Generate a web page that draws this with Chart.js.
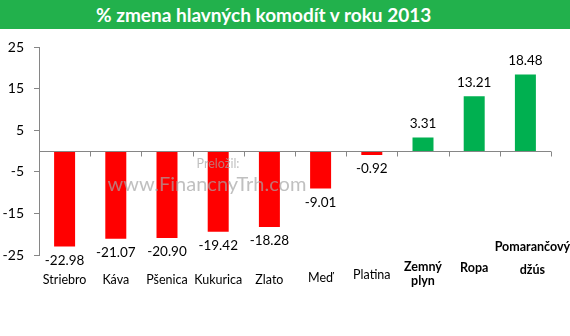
<!DOCTYPE html>
<html>
<head>
<meta charset="utf-8">
<script src="https://cdn.jsdelivr.net/npm/chart.js@4/dist/chart.umd.min.js"></script>
<style>
  html, body { margin: 0; padding: 0; background: #fff; }
  #title { width: 570px; height: 29px; background: #22B14C; color: #fff;
    font: bold 19px Lato, sans-serif; line-height: 30px; box-sizing: border-box;
    padding-left: 96px; white-space: nowrap; }
  #wrap { width: 570px; height: 307px; position: relative; }
</style>
</head>
<body>
<div id="title">% zmena hlavných komodít v roku 2013</div>
<div id="wrap"><canvas id="c" width="570" height="307"></canvas></div>
<script>
const categories = ['Striebro', 'Káva', 'Pšenica', 'Kukurica', 'Zlato', 'Meď', 'Platina', ['Zemný', 'plyn'], 'Ropa', ['Pomarančový', 'džús']];
const values = [-22.98, -21.07, -20.90, -19.42, -18.28, -9.01, -0.92, 3.31, 13.21, 18.48];
const yTicks = [-25, -15, -5, 5, 15, 25];

const RED = '#FF0000', GREEN = '#00B050', AXIS = '#868686';
const FONT = 'Lato, sans-serif';
// label placement style (offsets below the plot bottom, line spacing, small x nudge)
const labelStyle = [
  { dy: 25, lh: 14, dx: 0 }, { dy: 25, lh: 14, dx: 0 }, { dy: 25, lh: 14, dx: 0 },
  { dy: 25, lh: 14, dx: 0 }, { dy: 25, lh: 14, dx: 0 }, { dy: 23, lh: 14, dx: 0 },
  { dy: 20, lh: 14, dx: 0 }, { dy: 12, lh: 14, dx: 0 }, { dy: 13, lh: 14, dx: 0 },
  { dy: -8, lh: 23, dx: 7 }
];

const decorations = {
  id: 'decorations',
  afterDatasetsDraw(chart) {
    const { ctx, chartArea } = chart;
    const x = chart.scales.x, y = chart.scales.y;
    const y0 = Math.round(y.getPixelForValue(0)) + 0.5;
    ctx.save();
    ctx.strokeStyle = AXIS;
    ctx.lineWidth = 1;
    ctx.beginPath();
    ctx.moveTo(chartArea.left, y0);
    ctx.lineTo(chartArea.right, y0);
    const step = (x.getPixelForValue(1) - x.getPixelForValue(0));
    for (let i = 0; i <= categories.length; i++) {
      const px = Math.round(x.getPixelForValue(i) - step / 2) + 0.5;
      ctx.moveTo(px, y0);
      ctx.lineTo(px, y0 + 5);
    }
    ctx.stroke();

    ctx.textAlign = 'center';
    ctx.textBaseline = 'middle';
    ctx.fillStyle = '#000';

    // value labels
    const meta = chart.getDatasetMeta(0);
    ctx.font = '13.5px ' + FONT;
    meta.data.forEach((bar, i) => {
      const v = values[i];
      ctx.fillText(v.toFixed(2), bar.x, bar.y + (v < 0 ? 14 : -14));
    });

    // category labels
    categories.forEach((lab, i) => {
      const st = labelStyle[i];
      const lines = Array.isArray(lab) ? lab : [lab];
      ctx.font = (values[i] > 0 ? 'bold ' : '') + '12.5px ' + FONT;
      const cx = x.getPixelForValue(i) + st.dx;
      lines.forEach((ln, k) => ctx.fillText(ln, cx, chartArea.bottom + st.dy + k * st.lh));
    });

    // watermark
    ctx.fillStyle = 'rgba(165,165,165,0.7)';
    ctx.font = '12.5px ' + FONT;
    ctx.fillText('Preložil:', 218, 135);
    ctx.font = '20px ' + FONT;
    ctx.fillText('www.FinancnyTrh.com', 207, 156);
    ctx.restore();
  }
};

new Chart(document.getElementById('c'), {
  type: 'bar',
  data: {
    labels: categories,
    datasets: [{
      data: values,
      backgroundColor: values.map(v => v < 0 ? RED : GREEN),
      barPercentage: 0.41,
      categoryPercentage: 1
    }]
  },
  options: {
    responsive: false,
    animation: false,
    layout: { padding: { top: 18, right: 19, left: 0, bottom: 0 } },
    plugins: { legend: { display: false }, tooltip: { enabled: false } },
    scales: {
      x: {
        grid: { display: false, drawTicks: false },
        border: { display: false },
        ticks: { display: false },
        afterFit(s) { s.height = 81; }
      },
      y: {
        min: -25, max: 25,
        afterFit(s) { s.width = 39; },
        afterBuildTicks(s) { s.ticks = yTicks.map(v => ({ value: v })); },
        grid: { drawOnChartArea: false, drawTicks: true, tickLength: 5, color: AXIS },
        border: { display: true, color: AXIS },
        ticks: { padding: 10, color: '#000', font: { family: FONT, size: 14 } }
      }
    }
  },
  plugins: [decorations]
});
</script>
</body>
</html>
